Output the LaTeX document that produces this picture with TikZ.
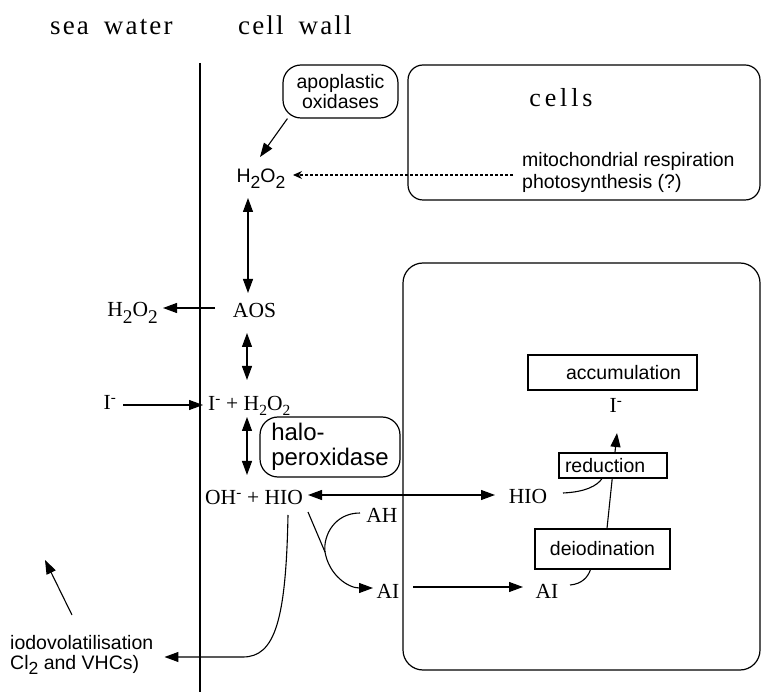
\documentclass[tikz,border=0pt]{standalone}
\usepackage{fontspec}
\setmainfont{Liberation Serif}
\setsansfont{Liberation Sans}
\usetikzlibrary{arrows.meta,calc}
\newcommand\lowd[1]{\raisebox{-0.28em}{\scalebox{0.9}{#1}}}
\newcommand\smsub[1]{\raisebox{-0.22em}{\scalebox{0.72}{#1}}}
\newcommand\supm{\textsuperscript{-}}
\begin{document}
\begin{tikzpicture}[x=1pt,y=-1pt,
  every node/.style={inner sep=2pt},
  ser/.style={font=\fontsize{21.5}{23}\selectfont},
  san/.style={font=\sffamily\fontsize{19.5}{20}\selectfont},
  hdr/.style={font=\fontsize{27}{29}\selectfont\addfontfeatures{LetterSpace=8}},
  rbox/.style={draw,line width=1.2pt,rounded corners=18pt},
  sbox/.style={draw,line width=1.2pt,fill=white},
  conn/.style={line width=1.1pt},
  arr/.style={conn,-{Triangle[length=14pt,width=10pt]}},
  darr/.style={conn,{Triangle[length=14pt,width=10pt]}-{Triangle[length=14pt,width=10pt]}},
]
\useasboundingbox (0,0) rectangle (761,692);

% headers
\node[hdr,anchor=base west,inner sep=0] (seaw) at (50,35) {sea\hspace{15pt}water};
\node[hdr,anchor=base west,inner sep=0] (cellw) at (238,35) {cell\hspace{15pt}wall};

% wall line and cell boxes
\draw[line width=1.1pt] (200,63) -- (200,692);
\draw[line width=1.2pt,rounded corners=15pt] (408,65) rectangle (760,200);
\draw[line width=1.2pt,rounded corners=20pt] (403,263) rectangle (760,670);

\node[font=\fontsize{26}{28}\selectfont\addfontfeatures{LetterSpace=15},anchor=base] (cellslbl) at (561,107) {cells};

% upper part
\node[rbox,san,align=center,minimum width=115pt,minimum height=53pt,inner sep=0] (apo) at (340.5,91.5) {apoplastic\\oxidases};
\node[font=\sffamily\fontsize{19.5}{22}\selectfont,anchor=west,align=left] (mito) at (520,172.5) {mitochondrial respiration\\photosynthesis (?)};
\node[san,anchor=base] (h2a) at (261,183) {H\lowd{2}O\lowd{2}};

\draw[arr] ($(apo.south west)+(5,0)$) -- ($(h2a.base)+(-1,-26)$);
\draw[conn,dash pattern=on 3pt off 2pt,-{Stealth[length=9pt,width=8pt]}] ($(mito.west)+(-7,2.5)$) -- ($(h2a.base)+(32,-8)$);

% middle column
\node[ser,anchor=base] (aos) at (254.5,318) {AOS};
\node[ser,anchor=base] (h2b) at (132.5,317) {H\lowd{2}O\lowd{2}};
\node[ser,anchor=base] (im1) at (110,410) {I\supm};
\node[ser,anchor=base west] (ih) at (206,411) {I\supm{} + H\smsub{2}O\smsub{2}};
\node[ser,anchor=base west] (oh) at (203,505) {OH\supm{} + HIO};
\node[ser,anchor=base] (hio2) at (528,504) {HIO};
\node[ser,anchor=base] (ah) at (382,522) {AH};
\node[ser,anchor=base] (ai1) at (388,598) {AI};
\node[ser,anchor=base] (ai2) at (547,598) {AI};
\node[ser,anchor=base] (im2) at (616,413) {I\supm};

\node[rbox,font=\sffamily\fontsize{24}{25}\selectfont,align=left,minimum width=140pt,minimum height=60pt,inner xsep=10pt,inner ysep=0pt] (halo) at (330,447) {halo-\\peroxidase};

\draw[darr] ($(h2a.base)+(-13,15)$) -- ($(aos.base)+(-6.5,-25)$);
\draw[arr] ($(aos.base)+(-39.5,-10)$) -- ($(h2b.base)+(30.5,-9)$);
\draw[darr] ($(aos.base)+(-7.5,15)$) -- ($(ih.base west)+(41,-31)$);
\draw[arr] ($(im1.base)+(13,-5)$) -- ($(ih.base west)+(-3,-6)$);
\draw[darr] ($(ih.base west)+(41,6)$) -- ($(oh.base west)+(44,-30)$);
\draw[darr] ($(oh.base west)+(105,-10)$) -- ($(hio2.base)+(-33,-9)$);

% iodovolatilisation
\node[san,anchor=west,align=left] (iodo) at (8,655) {iodovolatilisation\\Cl\lowd{2} and VHCs)};
\draw[arr] ($(oh.base west)+(85,10)$) .. controls (286,620) and (275,657) .. (243,657) -- ($(iodo.east)+(9,2)$);
\coordinate (ua) at (72,615);
\coordinate (ub) at (45,560);
\draw[arr] (ua) -- (ub);

% AH / AI
\coordinate (mrg) at (325,552);
\draw[conn] ($(oh.base west)+(105,7)$) -- (mrg);
\draw[arr] ($(ah.base)+(-22,-9)$) .. controls (335,513) and (323,535) .. (mrg) .. controls (329,575) and (348,588) .. ($(ai1.base)+(-15,-10)$);
\draw[arr] ($(ai1.base)+(25,-11)$) -- ($(ai2.base)+(-24,-11)$);

% inside cells
\node[sbox,san,minimum width=135pt,minimum height=40pt] (deio) at (602.5,549) {deiodination};
\draw[conn] ($(ai2.base)+(23,-13)$) .. controls (582,584) and (588,577) .. ($(deio.south)+(-12,0)$);
\draw[arr] ($(deio.north)+(4.5,0)$) -- ($(im2.base)+(1,20)$);
\node[sbox,san,text width=96pt,align=left,inner xsep=6pt,inner ysep=0pt,minimum height=25pt] (reduc) at (613,465.5) {reduction};
\draw[conn] ($(hio2.base)+(35,-11)$) .. controls (585,492) and (597,486) .. ($(reduc.south)+(-11,0)$);
\node[sbox,san,text width=137pt,align=right,inner xsep=16pt,inner ysep=0pt,minimum height=35pt] (accum) at (612.5,372.5) {accumulation};
\end{tikzpicture}
\end{document}
